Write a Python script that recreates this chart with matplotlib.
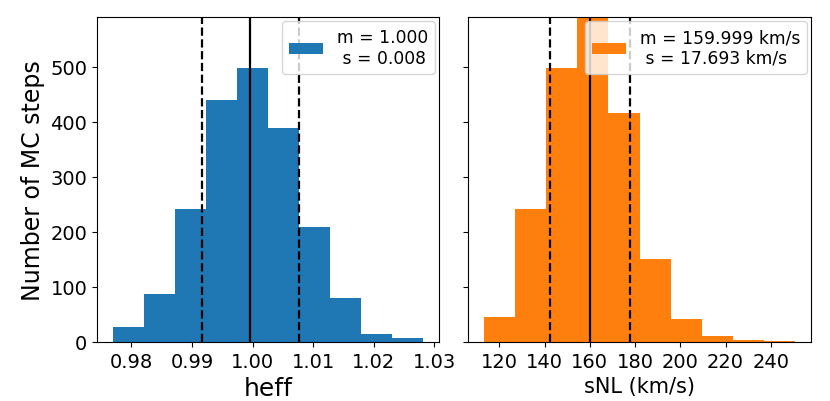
import numpy as np
import matplotlib
matplotlib.use('Agg')
import matplotlib.pyplot as plt

# histogram of heff over the MC chain
heff_edges = [0.9769 + 0.00513 * k for k in range(11)]
heff_counts = [27, 87, 242, 440, 497, 388, 208, 79, 15, 8]
heff_mean, heff_std = 0.99965, 0.0080

# histogram of sNL over the MC chain (km/s)
snl_edges = [113.1 + 13.78 * k for k in range(11)]
snl_counts = [45, 241, 498, 594, 416, 151, 41, 10, 3, 1]
snl_mean, snl_std = 159.999, 17.693

fig = plt.figure(figsize=(8.3, 4.02), dpi=100)
ax1 = fig.add_axes([0.1169, 0.1468, 0.412, 0.8085])
ax2 = fig.add_axes([0.5639, 0.1468, 0.4133, 0.8085], sharey=ax1)


def panel(ax, edges, counts, mean, std, color, label):
    edges = np.array(edges)
    ax.hist(edges[:-1], bins=edges, weights=counts, color=color, label=label)
    ax.axvline(mean, color='k', lw=1.6)
    ax.axvline(mean - std, color='k', lw=1.6, ls='--')
    ax.axvline(mean + std, color='k', lw=1.6, ls='--')
    ax.legend(loc='upper right', fontsize=12.3, borderaxespad=0.25)
    ax.tick_params(labelsize=14)


panel(ax1, heff_edges, heff_counts, heff_mean, heff_std, 'C0',
      'm = %.3f\n s = %.3f' % (1.000, 0.008))
panel(ax2, snl_edges, snl_counts, snl_mean, snl_std, 'C1',
      'm = %.3f km/s\n s = %.3f km/s' % (snl_mean, snl_std))

ax1.set_ylim(0, 590)
ax1.set_xticks([0.98, 0.99, 1.00, 1.01, 1.02, 1.03])
ax2.set_xticks([120, 140, 160, 180, 200, 220, 240])
ax2.tick_params(axis='y', labelleft=False)

ax1.set_xlabel('heff', fontsize=18)
ax1.set_ylabel('Number of MC steps', fontsize=17)
ax2.set_xlabel('sNL (km/s)', fontsize=15)

fig.savefig('out.png', dpi=100)
